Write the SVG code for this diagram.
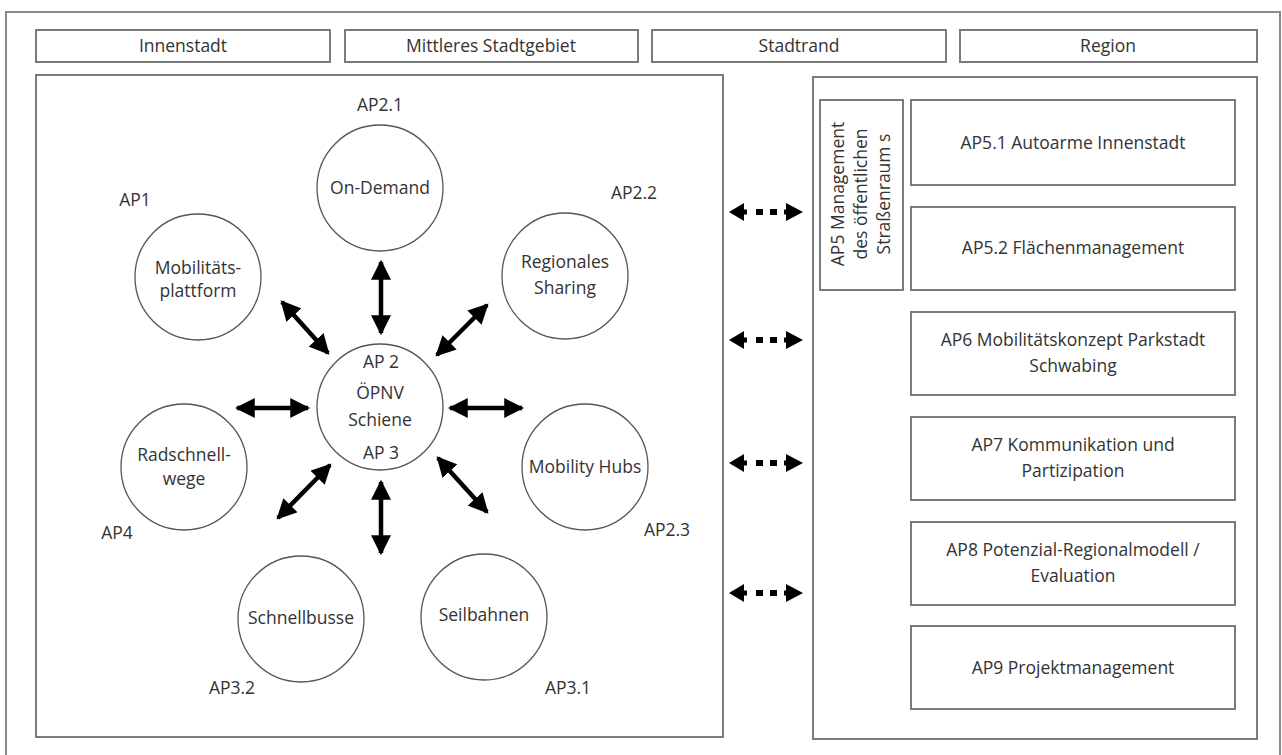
<svg xmlns="http://www.w3.org/2000/svg" width="1282" height="755" viewBox="0 0 1282 755">
<defs>
<style>
.frame{fill:#fff;stroke:#8a8a8a;stroke-width:2}
.box{fill:#fff;stroke:#7a7a7a;stroke-width:2}
.circ{fill:#fff;stroke:#555;stroke-width:1.3}
text{font-family:"Open Sans","Liberation Sans",sans-serif;font-size:17.5px;fill:#333;text-anchor:middle}
.arr{stroke:#000;stroke-width:4.5;fill:none;marker-start:url(#ah);marker-end:url(#ah)}
.dot{fill:#000}
</style>
<marker id="ah" markerUnits="userSpaceOnUse" markerWidth="20" markerHeight="20" viewBox="0 0 18 18" refX="16" refY="9" orient="auto-start-reverse">
<path d="M0,0 L18,9 L0,18 z" fill="#000"/>
</marker>
<g id="dashArrow">
<polygon points="0,0 15,-9 15,9" class="dot"/>
<rect x="13" y="-2.5" width="5" height="5" class="dot"/>
<rect x="27" y="-3" width="7" height="6" class="dot"/>
<rect x="41" y="-3" width="7" height="6" class="dot"/>
<rect x="55" y="-2.5" width="5" height="5" class="dot"/>
<polygon points="74,0 57,-9 57,9" class="dot"/>
</g>
</defs>
<rect width="1282" height="755" fill="#fff"/>
<rect id="outer" class="frame" x="6" y="12" width="1274" height="760"/>

<g id="header-innenstadt"><rect class="box" x="36" y="30" width="294" height="32"/><text x="183" y="52">Innenstadt</text></g>
<g id="header-mittleres"><rect class="box" x="345" y="30" width="293" height="32"/><text x="491" y="52">Mittleres Stadtgebiet</text></g>
<g id="header-stadtrand"><rect class="box" x="652" y="30" width="294" height="32"/><text x="799" y="52">Stadtrand</text></g>
<g id="header-region"><rect class="box" x="960" y="30" width="297" height="32"/><text x="1108" y="52">Region</text></g>

<g id="left-panel"><rect class="box" x="36" y="75" width="687" height="662"/></g>
<g id="right-panel"><rect class="box" x="813" y="77" width="444" height="662"/></g>

<g id="connectors">
<line class="arr" x1="381" y1="262" x2="381" y2="333"/>
<line class="arr" x1="381" y1="482" x2="381" y2="553"/>
<line class="arr" x1="237" y1="408" x2="308" y2="408"/>
<line class="arr" x1="450" y1="408" x2="522" y2="408"/>
<line class="arr" x1="282" y1="302" x2="328" y2="353"/>
<line class="arr" x1="487" y1="305" x2="437" y2="355"/>
<line class="arr" x1="330" y1="465" x2="278" y2="518"/>
<line class="arr" x1="438" y1="458" x2="487" y2="512"/>
<use href="#dashArrow" x="729" y="212"/>
<use href="#dashArrow" x="729" y="340"/>
<use href="#dashArrow" x="729" y="463"/>
<use href="#dashArrow" x="729" y="593"/>
</g>

<g id="ap2-1"><circle class="circ" cx="380" cy="188" r="63"/><text x="380" y="194">On-Demand</text><text x="380" y="111">AP2.1</text></g>
<g id="ap1"><circle class="circ" cx="198" cy="277" r="63"/><text x="198" y="274">Mobilitäts-</text><text x="198" y="297">plattform</text><text x="135" y="206">AP1</text></g>
<g id="ap2-2"><circle class="circ" cx="565" cy="276" r="63"/><text x="565" y="268">Regionales</text><text x="565" y="294">Sharing</text><text x="634" y="199">AP2.2</text></g>
<g id="ap2-3"><g id="center"><circle class="circ" cx="380" cy="407" r="63"/><text x="381" y="368">AP 2</text><text x="380" y="399">ÖPNV</text><text x="380" y="426">Schiene</text><text x="381" y="459">AP 3</text></g></g>
<g id="ap4"><circle class="circ" cx="184" cy="467" r="63"/><text x="184" y="461">Radschnell-</text><text x="184" y="485">wege</text><text x="117" y="539">AP4</text></g>
<g id="ap2-3b"><circle class="circ" cx="585" cy="467" r="63"/><text x="585" y="473">Mobility Hubs</text><text x="667" y="536">AP2.3</text></g>
<g id="ap3-2"><circle class="circ" cx="301" cy="619" r="63"/><text x="301" y="624">Schnellbusse</text><text x="232" y="694">AP3.2</text></g>
<g id="ap3-1"><circle class="circ" cx="484" cy="617" r="63"/><text x="484" y="621">Seilbahnen</text><text x="568" y="694">AP3.1</text></g>

<g id="ap5"><rect class="box" x="820" y="100" width="83" height="190"/>
<g transform="translate(861,194) rotate(-90)"><text x="0" y="-17">AP5 Management</text><text x="0" y="6">des öffentlichen</text><text x="0" y="29">Straßenraum s</text></g></g>
<g id="ap5-1"><rect class="box" x="911" y="100" width="324" height="85"/><text x="1073" y="149">AP5.1 Autoarme Innenstadt</text></g>
<g id="ap5-2"><rect class="box" x="911" y="207" width="324" height="83"/><text x="1073" y="254">AP5.2 Flächenmanagement</text></g>
<g id="ap6"><rect class="box" x="911" y="312" width="324" height="83"/><text x="1073" y="346">AP6 Mobilitätskonzept Parkstadt</text><text x="1073" y="372">Schwabing</text></g>
<g id="ap7"><rect class="box" x="911" y="417" width="324" height="83"/><text x="1073" y="451">AP7 Kommunikation und</text><text x="1073" y="477">Partizipation</text></g>
<g id="ap8"><rect class="box" x="911" y="522" width="324" height="83"/><text x="1073" y="556">AP8 Potenzial-Regionalmodell /</text><text x="1073" y="582">Evaluation</text></g>
<g id="ap9"><rect class="box" x="911" y="626" width="324" height="83"/><text x="1073" y="674">AP9 Projektmanagement</text></g>
</svg>
